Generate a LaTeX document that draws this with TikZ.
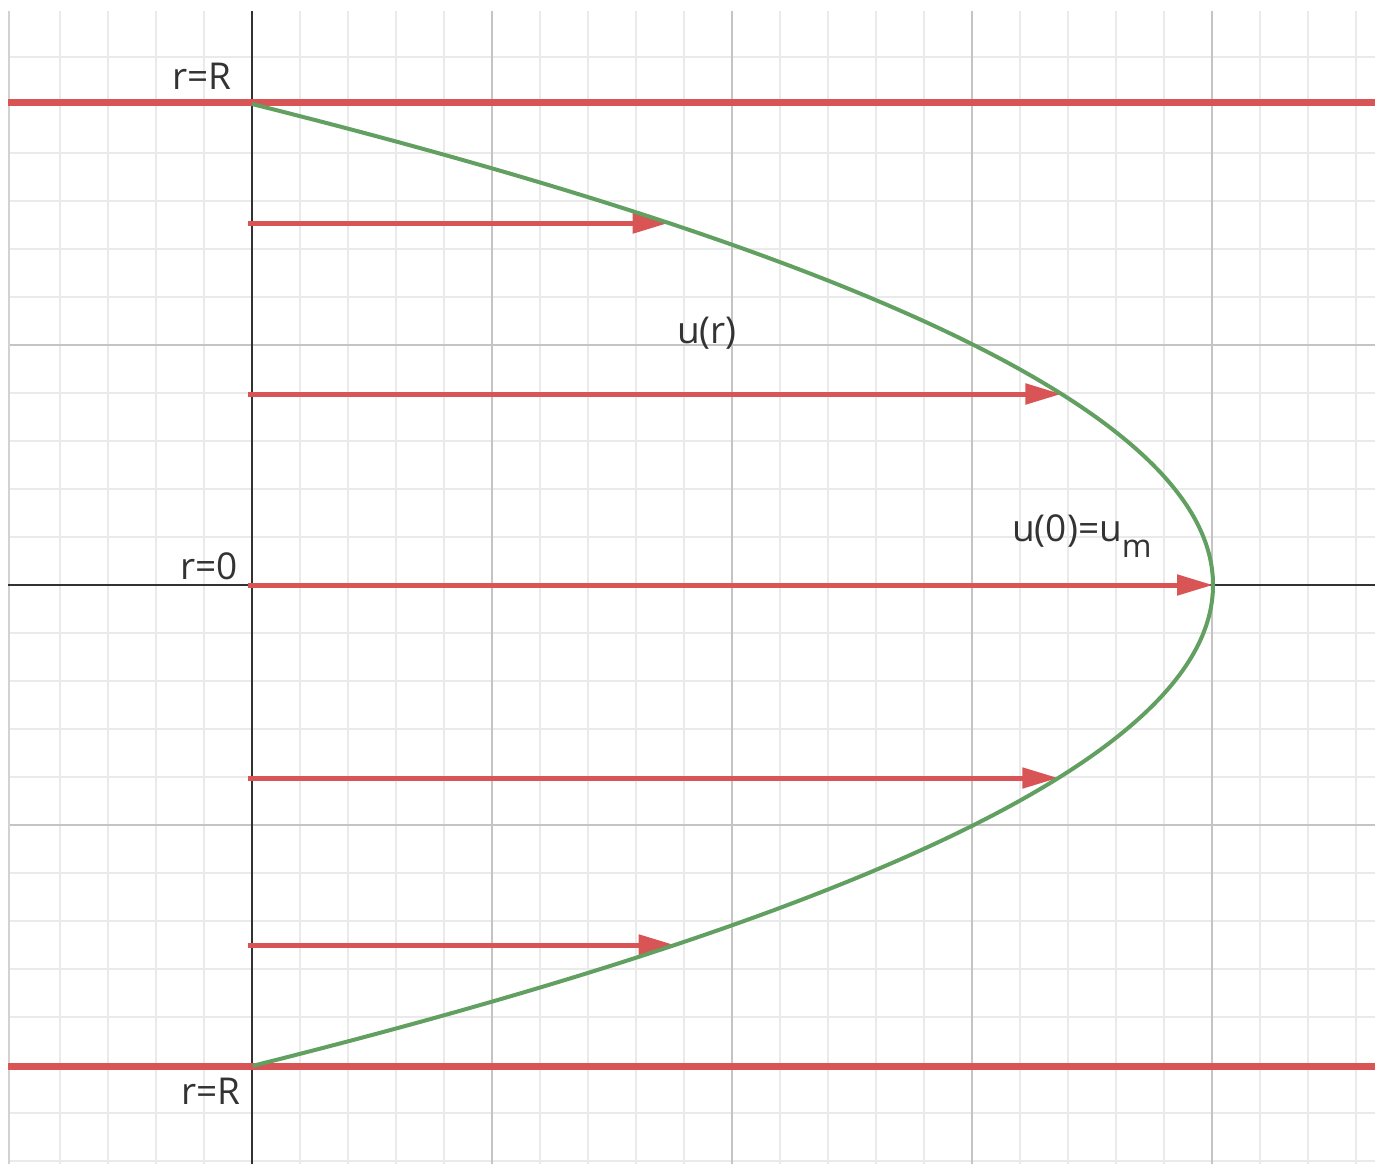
\documentclass[tikz,border=0pt]{standalone}
\usepackage{fontspec}
\setmainfont{Open Sans}
\usetikzlibrary{arrows.meta}
\definecolor{redl}{RGB}{217,84,84}
\definecolor{greenl}{RGB}{98,160,98}
\definecolor{minorg}{RGB}{234,234,234}
\definecolor{edgeg}{RGB}{210,210,210}
\definecolor{majorg}{RGB}{196,196,196}
\definecolor{axisc}{RGB}{50,50,50}
\definecolor{labelc}{RGB}{51,51,51}
\begin{document}
\begin{tikzpicture}[x=1pt,y=-1pt,
  minor/.style={draw=minorg,line width=1.5pt},
  major/.style={draw=majorg,line width=1.8pt},
  axisline/.style={draw=axisc,line width=1.8pt},
  wall/.style={draw=redl,line width=7pt},
  vel/.style={draw=redl,line width=5pt,-{Triangle[length=36pt,width=20pt]}},
  profile/.style={draw=greenl,line width=4pt},
  lbl/.style={font=\fontsize{37}{37}\selectfont,text=labelc,inner sep=0pt}]
\useasboundingbox (0,0) rectangle (1375,1164);
\fill[white] (0,0) rectangle (1375,1164);
\begin{scope}
\clip (8,11) rectangle (1375,1164);
\foreach \i in {-4,...,23} \draw[minor] ({252+48*\i},11) -- ({252+48*\i},1164);
\foreach \j in {-12,...,12} \draw[minor] (8,{585+48*\j}) -- (1375,{585+48*\j});
\foreach \i in {1,2,3,4} \draw[major] ({252+240*\i},11) -- ({252+240*\i},1164);
\foreach \j in {-2,-1,1,2} \draw[major] (8,{585+240*\j}) -- (1375,{585+240*\j});
\draw[draw=edgeg,line width=1.8pt] (9,11) -- (9,1164);
\end{scope}
% axes
\coordinate (ytop) at (252,11);
\coordinate (ybot) at (252,1164);
\coordinate (xl) at (8,585);
\coordinate (xr) at (1375,585);
\draw[axisline] (ytop) -- (ybot);
\draw[axisline] (xl) -- (xr);
% walls
\coordinate (wtl) at (8,102);
\coordinate (wtr) at (1375,102);
\coordinate (wbl) at (8,1066);
\coordinate (wbr) at (1375,1066);
\draw[wall] (wtl) -- (wtr);
\draw[wall] (wbl) -- (wbr);
% velocity arrows
\foreach \y/\n in {223/a,394/b,585/c,778/d,945/e}{
  \coordinate (s\n) at (248,\y);
  \coordinate (t\n) at ({252+961*(1-((\y-585)/481)^2)},\y);
  \draw[vel] (s\n) -- (t\n);
}
% profile
\draw[profile] plot[domain=-1:1,samples=121,smooth] ({252+961*(1-\x*\x)},{585+481*\x});
% labels
\node[lbl,anchor=base east] (rtop) at (232,89) {r=R};
\node[lbl,anchor=base east] (rzero) at (238,579) {r=0};
\node[lbl,anchor=base east] (rbot) at (241,1104) {r=R};
\node[lbl,anchor=base west] (ur) at (677,343) {u(r)};
\node[lbl,anchor=base west] (u0) at (1012,541) {u(0)=u\raisebox{-16pt}{\fontsize{32}{32}\selectfont m}};
\end{tikzpicture}
\end{document}
